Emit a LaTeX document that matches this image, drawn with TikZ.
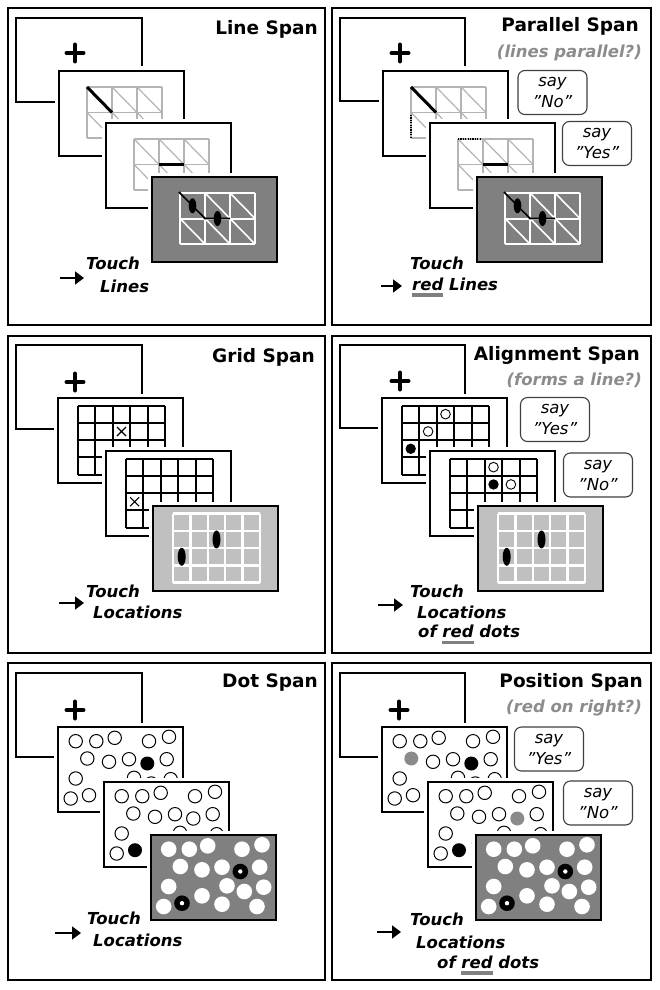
\documentclass[tikz,border=0pt]{standalone}
\usepackage{fontspec}
\setmainfont{DejaVu Sans}[BoldFont={DejaVu Sans Bold},ItalicFont={DejaVu Sans Oblique},BoldItalicFont={DejaVu Sans Bold Oblique}]
\usetikzlibrary{arrows.meta}
\definecolor{gridgray}{HTML}{B4B4B4}
\definecolor{darkbg}{HTML}{808080}
\definecolor{lightbg}{HTML}{C0C0C0}
\definecolor{subgray}{HTML}{8C8C8C}
\definecolor{ulgray}{HTML}{808080}
\definecolor{dotgray}{HTML}{8A8A8A}
\newcommand\grayul[1]{\setbox0=\hbox{#1}\rlap{\color{ulgray}\rule[-6.8pt]{\wd0}{3.5pt}}\box0\relax}
\def\dotpos{17.7/14.2, 38.3/14.2, 56.7/10.8, 91/14.2, 111/9.8, 29.3/31.5, 51/34.8, 71/32.2, 89.3/36.5, 108.7/32.2, 17.7/51.5, 76/50.8, 93.3/56.5, 112.7/52.2, 12.7/71.5, 31/68.2, 51/60.8, 71/69.2, 106/71.5}
\newcommand\screen[3]{%
  \draw[white,line width=9pt] (#1,#2) rectangle ++(125,85);
  \filldraw[fill=#3,draw=black,line width=2.2pt] (#1,#2) rectangle ++(125,85);}
\newcommand\plusat[2]{\draw[line width=4pt,line cap=round] (#1-8.5,#2) -- (#1+8.5,#2) (#1,#2-8.5) -- (#1,#2+8.5);}
\newcommand\lgrid[2]{%
  \foreach \i in {0,1,2,3} {\draw[#1,line width=#2] (28+25*\i,16) -- (28+25*\i,67);}
  \foreach \j in {0,1,2} {\draw[#1,line width=#2] (28,16+25.5*\j) -- (103,16+25.5*\j);}
  \foreach \i in {0,1,2} {\foreach \j in {0,1} {\draw[#1,line width=#2*0.8] (28+25*\i,16+25.5*\j) -- ++(25,25.5);}}}
\newcommand\lresp{%
  \draw[line width=1.8pt] (27,15) -- (53,41.5) -- (78,41.5);
  \fill (40.5,28.75) ellipse[x radius=3.8, y radius=7.5];
  \fill (65.5,41.5) ellipse[x radius=3.8, y radius=7.5];}
\newcommand\ggrid[2]{%
  \foreach \i in {0,...,5} {\draw[#1,line width=#2] (20+17.4*\i,7.5) -- (20+17.4*\i,76.7);}
  \foreach \j in {0,...,4} {\draw[#1,line width=#2] (20,7.5+17.3*\j) -- (107,7.5+17.3*\j);}}
\newcommand\gresp{%
  \fill (63.5,33.45) ellipse[x radius=4, y radius=9];
  \fill (28.7,50.75) ellipse[x radius=4, y radius=9];}
\newcommand\dotframe[2]{%
  \foreach \px/\py [count=\k] in \dotpos {%
    \ifnum\k=#1\relax \fill[black] (\px,\py) circle[radius=7];%
    \else\ifnum\k=#2\relax \fill[dotgray] (\px,\py) circle[radius=7];%
    \else \filldraw[fill=white,draw=black,line width=1pt] (\px,\py) circle[radius=6.7];\fi\fi}}
\newcommand\dotresp{%
  \foreach \px/\py [count=\k] in \dotpos {%
    \ifnum\k=9\relax \fill[black] (\px,\py) circle[radius=7.8]; \fill[white] (\px,\py) circle[radius=2.2];%
    \else\ifnum\k=16\relax \fill[black] (\px,\py) circle[radius=7.8]; \fill[white] (\px,\py) circle[radius=2.2];%
    \else \fill[white] (\px,\py) circle[radius=7.8];\fi\fi}}
\tikzset{
  panelline/.style={line width=2pt},
  scrline/.style={line width=2.2pt},
  title/.style={anchor=base east, inner sep=0pt, font=\fontsize{18.5}{20}\selectfont\bfseries},
  sub/.style={anchor=base east, inner sep=0pt, text=subgray, font=\fontsize{16.5}{18}\selectfont\bfseries\itshape},
  touch/.style={anchor=base west, inner sep=0pt, font=\fontsize{16.5}{18}\selectfont\bfseries\itshape},
  bubble/.style={draw=black!75, line width=1.1pt, rounded corners=7pt, minimum width=69pt, minimum height=44pt, inner sep=0pt, align=center, font=\fontsize{16.5}{21}\selectfont\itshape},
  arr/.style={line width=1.8pt, -{Triangle[length=9pt,width=13pt]}},
  dotline/.style={line width=2pt, dash pattern=on 1.2pt off 1.2pt}
}
\begin{document}
\begin{tikzpicture}[x=1pt,y=-1pt]
\useasboundingbox (0,0) rectangle (659,990);
\fill[white] (0,0) rectangle (659,990);
% ---------------- Panel 1: Line Span
\draw[panelline] (8,8) rectangle (325,325);
\draw[scrline] (16,18) rectangle (142,102);
\plusat{75}{53}
\screen{59}{71}{white}
\begin{scope}[shift={(59,71)}] \lgrid{gridgray}{1.5pt} \draw[line width=3pt] (28,16) -- (53,41.5); \end{scope}
\screen{106}{123}{white}
\begin{scope}[shift={(106,123)}] \lgrid{gridgray}{1.5pt} \draw[line width=3pt] (53,41.5) -- (78,41.5); \end{scope}
\screen{152}{177}{darkbg}
\begin{scope}[shift={(152,177)}] \lgrid{white}{2pt} \lresp \end{scope}
\node[title] (t1) at (318,35) {Line Span};
\node[touch] (p1a) at (86,269) {Touch};
\node[touch] (p1b) at (100,292) {Lines};
\coordinate (p1s) at (60,278); \coordinate (p1e) at (84,278);
\draw[arr] (p1s) -- (p1e);
% ---------------- Panel 2: Parallel Span
\draw[panelline] (332,8) rectangle (651,325);
\draw[scrline] (340,18) rectangle (465,101);
\plusat{400}{53}
\screen{383}{71}{white}
\begin{scope}[shift={(383,71)}] \lgrid{gridgray}{1.5pt} \draw[line width=3pt] (28,16) -- (53,41.5); \draw[dotline] (28,44) -- (28,66); \end{scope}
\screen{430}{123}{white}
\begin{scope}[shift={(430,123)}] \lgrid{gridgray}{1.5pt} \draw[dotline] (28,16) -- (51,16); \draw[line width=3pt] (53,41.5) -- (78,41.5); \end{scope}
\screen{477}{177}{darkbg}
\begin{scope}[shift={(477,177)}] \lgrid{white}{2pt} \lresp \end{scope}
\node[title] (t2) at (639,32) {Parallel Span};
\node[sub] (s2) at (642,58) {(lines parallel?)};
\node[bubble] (b2n) at (552.5,92.5) {say\\"No"};
\node[bubble] (b2y) at (597,143.5) {say\\"Yes"};
\node[touch] (p2a) at (410,269) {Touch};
\node[touch] (p2b) at (412,290) {\grayul{red} Lines};
\coordinate (p2s) at (381,286); \coordinate (p2e) at (402,286);
\draw[arr] (p2s) -- (p2e);
% ---------------- Panel 3: Grid Span
\draw[panelline] (8,336) rectangle (325,653);
\draw[scrline] (16,345) rectangle (142,429);
\plusat{75}{382}
\screen{58}{398}{white}
\begin{scope}[shift={(58,398)}] \ggrid{black}{2pt} \draw[line width=1.1pt] (59,29) -- (68,38) (59,38) -- (68,29); \end{scope}
\screen{106}{451}{white}
\begin{scope}[shift={(106,451)}] \ggrid{black}{2pt} \draw[line width=1.1pt] (24.2,46.25) -- (33.2,55.25) (24.2,55.25) -- (33.2,46.25); \end{scope}
\screen{153}{506}{lightbg}
\begin{scope}[shift={(153,506)}] \ggrid{white}{2.5pt} \gresp \end{scope}
\node[title] (t3) at (315,362) {Grid Span};
\node[touch] (p3a) at (86,597) {Touch};
\node[touch] (p3b) at (93,618) {Locations};
\coordinate (p3s) at (59,603); \coordinate (p3e) at (84,603);
\draw[arr] (p3s) -- (p3e);
% ---------------- Panel 4: Alignment Span
\draw[panelline] (332,336) rectangle (651,653);
\draw[scrline] (340,345) rectangle (465,428);
\plusat{400}{381}
\screen{382}{398}{white}
\begin{scope}[shift={(382,398)}] \ggrid{black}{2pt}
  \filldraw[fill=white,draw=black,line width=0.9pt] (63.5,16.15) circle[radius=4.8];
  \filldraw[fill=white,draw=black,line width=0.9pt] (46.1,33.45) circle[radius=4.8];
  \fill (28.7,50.75) circle[radius=5.2]; \end{scope}
\screen{430}{451}{white}
\begin{scope}[shift={(430,451)}] \ggrid{black}{2pt}
  \filldraw[fill=white,draw=black,line width=0.9pt] (63.5,16.15) circle[radius=4.8];
  \fill (63.5,33.45) circle[radius=5.2];
  \filldraw[fill=white,draw=black,line width=0.9pt] (80.9,33.45) circle[radius=4.8]; \end{scope}
\screen{478}{506}{lightbg}
\begin{scope}[shift={(478,506)}] \ggrid{white}{2.5pt} \gresp \end{scope}
\node[title] (t4) at (640,360) {Alignment Span};
\node[sub] (s4) at (642,385) {(forms a line?)};
\node[bubble] (b4y) at (555,419.5) {say\\"Yes"};
\node[bubble] (b4n) at (598,475) {say\\"No"};
\node[touch] (p4a) at (410,597) {Touch};
\node[touch] (p4b) at (417,618) {Locations};
\node[touch] (p4c) at (418,637.5) {of \grayul{red} dots};
\coordinate (p4s) at (378,605); \coordinate (p4e) at (403,605);
\draw[arr] (p4s) -- (p4e);
% ---------------- Panel 5: Dot Span
\draw[panelline] (8,663) rectangle (325,980);
\draw[scrline] (16,673) rectangle (142,757);
\plusat{75}{710}
\screen{58}{727}{white}
\begin{scope}[shift={(58,727)}] \dotframe{9}{0} \end{scope}
\screen{104}{782}{white}
\begin{scope}[shift={(104,782)}] \dotframe{16}{0} \end{scope}
\screen{151}{835}{darkbg}
\begin{scope}[shift={(151,835)}] \dotresp \end{scope}
\node[title] (t5) at (318,687) {Dot Span};
\node[touch] (p5a) at (87,924) {Touch};
\node[touch] (p5b) at (93,946) {Locations};
\coordinate (p5s) at (55,933); \coordinate (p5e) at (81,933);
\draw[arr] (p5s) -- (p5e);
% ---------------- Panel 6: Position Span
\draw[panelline] (332,663) rectangle (651,980);
\draw[scrline] (340,673) rectangle (465,757);
\plusat{399}{710}
\screen{382}{727}{white}
\begin{scope}[shift={(382,727)}] \dotframe{9}{6} \end{scope}
\screen{428}{782}{white}
\begin{scope}[shift={(428,782)}] \dotframe{16}{9} \end{scope}
\screen{476}{835}{darkbg}
\begin{scope}[shift={(476,835)}] \dotresp \end{scope}
\node[title] (t6) at (643,687) {Position Span};
\node[sub] (s6) at (642,712) {(red on right?)};
\node[bubble] (b6y) at (549,749) {say\\"Yes"};
\node[bubble] (b6n) at (598,803) {say\\"No"};
\node[touch] (p6a) at (410,925) {Touch};
\node[touch] (p6b) at (416,948) {Locations};
\node[touch] (p6c) at (437,968) {of \grayul{red} dots};
\coordinate (p6s) at (377,932); \coordinate (p6e) at (401,932);
\draw[arr] (p6s) -- (p6e);
\end{tikzpicture}
\end{document}
